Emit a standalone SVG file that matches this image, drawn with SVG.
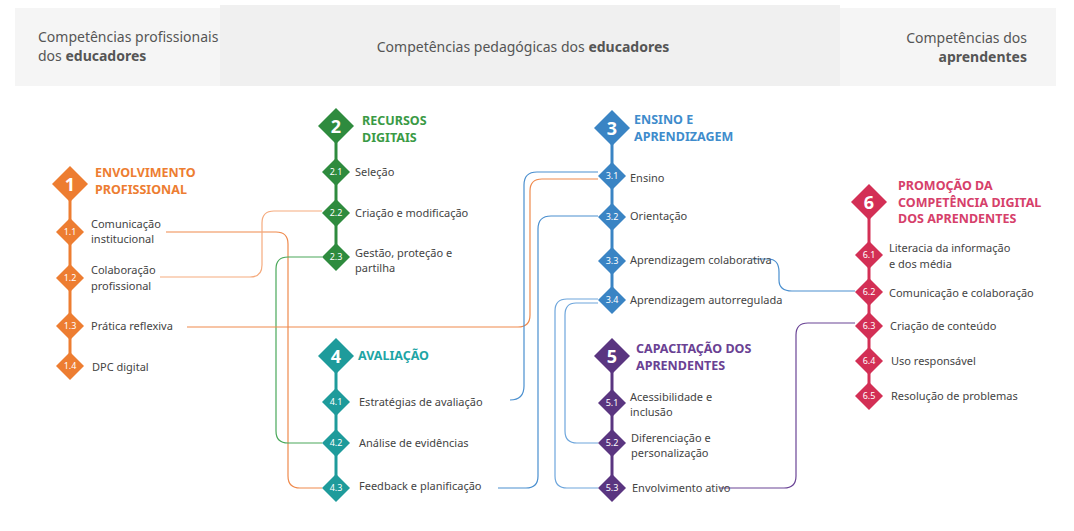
<svg xmlns="http://www.w3.org/2000/svg" width="1074" height="531" viewBox="0 0 1074 531">
<style>
text{font-family:"Noto Sans","Open Sans",sans-serif;fill:#444;font-size:11px}
.h{font-size:14px;fill:#555}
.b{font-weight:bold}
.t{font-size:12.5px;font-weight:bold}
.n{fill:#fff;font-size:9px;text-anchor:middle}
.N{fill:#fff;font-size:18px;font-weight:bold;text-anchor:middle}
.c{fill:none;stroke-width:1.2}
</style>
<defs>
<path id="big" d="M0,-18 L18,0 L0,18 L-18,0Z"/>
<path id="sm" d="M0,-14 L14,0 L0,14 L-14,0Z"/>
</defs>
<rect x="15" y="8" width="205" height="78" fill="#f5f5f5"/>
<rect x="220" y="5" width="620" height="81" fill="#f0f0f0"/>
<rect x="840" y="8" width="216" height="78" fill="#f5f5f5"/>
<text class="h" x="38" y="42">Competências profissionais</text>
<text class="h" x="38" y="61">dos <tspan class="b">educadores</tspan></text>
<text class="h" x="523" y="52" text-anchor="middle">Competências pedagógicas dos <tspan class="b">educadores</tspan></text>
<text class="h" x="1027" y="43" text-anchor="end">Competências dos</text>
<text class="h b" x="1027" y="62" text-anchor="end">aprendentes</text>

<g id="connectors">
<path class="c" stroke="#ef8a4d" d="M166,232 H276 Q288,232 288,244 V476 Q288,488 300,488 H322"/>
<path class="c" stroke="#f5ab7e" d="M160,277 H250 Q262,277 262,265 V223 Q262,211 274,211 H322"/>
<path class="c" stroke="#4aa85a" d="M322,257 H288 Q276,257 276,269 V431 Q276,443 288,443 H322"/>
<path class="c" stroke="#ef8a4d" d="M187,327 H518 Q530,327 530,315 V191 Q530,179 542,179 H598"/>
<path class="c" stroke="#4a8fcf" d="M510,400 Q524,400 524,386 V185 Q524,172 537,172 H598"/>
<path class="c" stroke="#4a8fcf" d="M498,488 H526 Q538,488 538,476 V229 Q538,216 551,216 H598"/>
<path class="c" stroke="#4a8fcf" d="M752,259 H768 Q779,259 779,272 V280 Q779,291 792,291 H855"/>
<path class="c" stroke="#6ea6dc" d="M598,299 H567 Q555,299 555,311 V476 Q555,488 567,488 H598"/>
<path class="c" stroke="#6ea6dc" d="M598,303 H576 Q565,303 565,315 V431 Q565,443 577,443 H598"/>
<path class="c" stroke="#6b4596" d="M720,488 H784 Q796,488 796,476 V335 Q796,323 808,323 H855"/>
</g>

<g id="area1" fill="#ed7d31">
<path d="M70,184 V366" stroke="#ed7d31" stroke-width="3"/>
<use href="#big" x="70" y="184"/><text class="N" x="70" y="191">1</text>
<text class="t" x="95" y="177" style="fill:#ed7d31">ENVOLVIMENTO</text>
<text class="t" x="95" y="194" style="fill:#ed7d31">PROFISSIONAL</text>
<use href="#sm" x="70" y="232"/><text class="n" x="70" y="235">1.1</text>
<text x="91" y="228">Comunicação</text><text x="91" y="243">institucional</text>
<use href="#sm" x="70" y="278"/><text class="n" x="70" y="281">1.2</text>
<text x="91" y="274">Colaboração</text><text x="91" y="290">profissional</text>
<use href="#sm" x="70" y="326"/><text class="n" x="70" y="329">1.3</text>
<text x="91" y="330">Prática reflexiva</text>
<use href="#sm" x="70" y="366"/><text class="n" x="70" y="369">1.4</text>
<text x="92" y="371">DPC digital</text>
</g>

<g id="area2" fill="#2e8b3e">
<path d="M336,126 V257" stroke="#2e8b3e" stroke-width="3"/>
<use href="#big" x="336" y="126"/><text class="N" x="336" y="133">2</text>
<text class="t" x="362" y="125" style="fill:#3a9a45">RECURSOS</text>
<text class="t" x="362" y="142" style="fill:#3a9a45">DIGITAIS</text>
<use href="#sm" x="336" y="172"/><text class="n" x="336" y="175">2.1</text>
<text x="355" y="176">Seleção</text>
<use href="#sm" x="336" y="213"/><text class="n" x="336" y="216">2.2</text>
<text x="355" y="217">Criação e modificação</text>
<use href="#sm" x="336" y="257"/><text class="n" x="336" y="260">2.3</text>
<text x="355" y="257">Gestão, proteção e</text><text x="355" y="272">partilha</text>
</g>

<g id="area4" fill="#1e9b9b">
<path d="M336,356 V488" stroke="#1e9b9b" stroke-width="3"/>
<use href="#big" x="336" y="356"/><text class="N" x="336" y="363">4</text>
<text class="t" x="358" y="360" style="fill:#1ea5a5">AVALIAÇÃO</text>
<use href="#sm" x="336" y="402"/><text class="n" x="336" y="405">4.1</text>
<text x="359" y="406">Estratégias de avaliação</text>
<use href="#sm" x="336" y="443"/><text class="n" x="336" y="446">4.2</text>
<text x="359" y="447">Análise de evidências</text>
<use href="#sm" x="336" y="488"/><text class="n" x="336" y="491">4.3</text>
<text x="359" y="490">Feedback e planificação</text>
</g>

<g id="area3" fill="#3a84c4">
<path d="M612,128 V300" stroke="#3a84c4" stroke-width="3"/>
<use href="#big" x="612" y="128"/><text class="N" x="612" y="135">3</text>
<text class="t" x="634" y="124" style="fill:#3f8ccc">ENSINO E</text>
<text class="t" x="634" y="141" style="fill:#3f8ccc">APRENDIZAGEM</text>
<use href="#sm" x="612" y="176"/><text class="n" x="612" y="179">3.1</text>
<text x="630" y="182">Ensino</text>
<use href="#sm" x="612" y="217"/><text class="n" x="612" y="220">3.2</text>
<text x="630" y="220">Orientação</text>
<use href="#sm" x="612" y="261"/><text class="n" x="612" y="264">3.3</text>
<text x="630" y="264">Aprendizagem colaborativa</text>
<use href="#sm" x="612" y="300"/><text class="n" x="612" y="303">3.4</text>
<text x="630" y="304">Aprendizagem autorregulada</text>
</g>

<g id="area5" fill="#5a3580">
<path d="M612,356 V488" stroke="#5a3580" stroke-width="3"/>
<use href="#big" x="612" y="356"/><text class="N" x="612" y="363">5</text>
<text class="t" x="636" y="353" style="fill:#6a4193">CAPACITAÇÃO DOS</text>
<text class="t" x="636" y="370" style="fill:#6a4193">APRENDENTES</text>
<use href="#sm" x="612" y="403"/><text class="n" x="612" y="406">5.1</text>
<text x="630" y="401">Acessibilidade e</text><text x="630" y="416">inclusão</text>
<use href="#sm" x="612" y="443"/><text class="n" x="612" y="446">5.2</text>
<text x="631" y="442">Diferenciação e</text><text x="631" y="457">personalização</text>
<use href="#sm" x="612" y="488"/><text class="n" x="612" y="491">5.3</text>
<text x="632" y="492">Envolvimento ativo</text>
</g>

<g id="area6" fill="#d32f55">
<path d="M869,202 V396" stroke="#d32f55" stroke-width="3"/>
<use href="#big" x="869" y="202"/><text class="N" x="869" y="209">6</text>
<text class="t" x="898" y="190" style="fill:#d6406a">PROMOÇÃO DA</text>
<text class="t" x="898" y="207" style="fill:#d6406a">COMPETÊNCIA DIGITAL</text>
<text class="t" x="898" y="223" style="fill:#d6406a">DOS APRENDENTES</text>
<use href="#sm" x="869" y="255"/><text class="n" x="869" y="258">6.1</text>
<text x="889" y="252">Literacia da informação</text><text x="889" y="268">e dos média</text>
<use href="#sm" x="869" y="292"/><text class="n" x="869" y="295">6.2</text>
<text x="889" y="297">Comunicação e colaboração</text>
<use href="#sm" x="869" y="326"/><text class="n" x="869" y="329">6.3</text>
<text x="890" y="330">Criação de conteúdo</text>
<use href="#sm" x="869" y="361"/><text class="n" x="869" y="364">6.4</text>
<text x="891" y="365">Uso responsável</text>
<use href="#sm" x="869" y="396"/><text class="n" x="869" y="399">6.5</text>
<text x="891" y="400">Resolução de problemas</text>
</g>
</svg>
